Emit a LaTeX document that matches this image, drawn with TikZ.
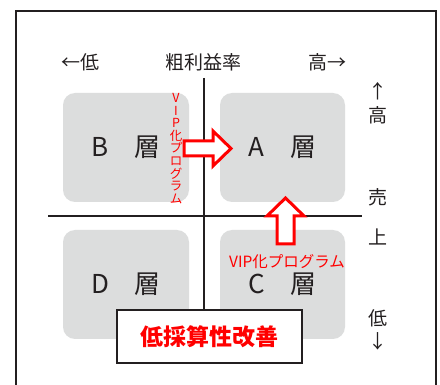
\documentclass[tikz,border=0pt]{standalone}
\usepackage{fontspec}
\setmainfont{Noto Sans CJK JP}
\definecolor{boxgray}{HTML}{DCDDDD}
\definecolor{ink}{HTML}{231F20}
\definecolor{vipred}{HTML}{FF0000}
\begin{document}
\begin{tikzpicture}[x=1pt,y=-1pt,
  quad/.style={fill=boxgray, rounded corners=12pt, font=\fontsize{26}{26}\selectfont, text=ink, inner sep=0pt},
  axis/.style={font=\fontsize{19}{19}\selectfont, text=ink, inner sep=0pt},
  hollow/.style={draw=vipred, line width=3pt, fill=white, line join=miter},
  redtxt/.style={text=vipred, inner sep=0pt},
  rule/.style={draw=ink, line width=1.3pt}]
\useasboundingbox (0,0) rectangle (440,385);
\fill[white] (0,0) rectangle (440,385);
\draw[line width=2pt, ink] (16,385) -- (16,11) -- (436,11) -- (436,385);

% quadrant boxes
\node[quad, minimum width=126pt, minimum height=109pt] (B) at (126,147.5) {B\hspace{1em}層};
\node[quad, minimum width=125pt, minimum height=109pt] (A) at (282.5,147.5) {A\hspace{1em}層};
\node[quad, minimum width=126pt, minimum height=109pt] (D) at (126,284.5) {D\hspace{1em}層};
\node[quad, minimum width=125pt, minimum height=109pt] (C) at (282.5,284.5) {C\hspace{1em}層};

% improvement box (drawn later on top)
\coordinate (vtop) at (204,78);
\coordinate (hleft) at (48,216);
\coordinate (hright) at (362,216);
\coordinate (vbot) at (204,310);
\draw[rule] (vtop) -- (vbot);
\draw[rule] (hleft) -- (hright);

% axis labels
\node[axis] (lowp) at (80,62) {←低};
\node[axis] (title) at (203,62) {粗利益率};
\node[axis] (highp) at (327,62) {高→};
\node[axis] (uparr) at (378,91) {↑};
\node[axis] (hi) at (378,115) {高};
\node[axis] (sell) at (378,197) {売};
\node[axis] (upper) at (378,237) {上};
\node[axis] (lo) at (378,318) {低};
\node[axis] (dnarr) at (378,341) {↓};

% hollow arrows
\draw[hollow] (184,141) -- (213,141) -- (213,131) -- (231,148.5) -- (213,166) -- (213,156) -- (184,156) -- cycle;
\draw[hollow] (277,244) -- (277,216) -- (267,216) -- (285.5,198) -- (304,216) -- (294,216) -- (294,244) -- cycle;

% red labels
\node[redtxt, align=center, font=\fontsize{12.5}{12.6}\selectfont] (vvip) at (176,148.5) {V\\I\\P\\化\\プ\\ロ\\グ\\ラ\\ム};
\node[redtxt, font=\fontsize{15.5}{15.5}\selectfont] (hvip) at (287,262) {VIP化プログラム};

% bottom box
\node[draw=ink, line width=1.5pt, fill=white, minimum width=185pt, minimum height=53pt, inner sep=0pt,
      text=vipred, font=\fontsize{23}{23}\selectfont\bfseries] (imp) at (209.5,336.5) {低採算性改善\hspace{9pt}};
\end{tikzpicture}
\end{document}
